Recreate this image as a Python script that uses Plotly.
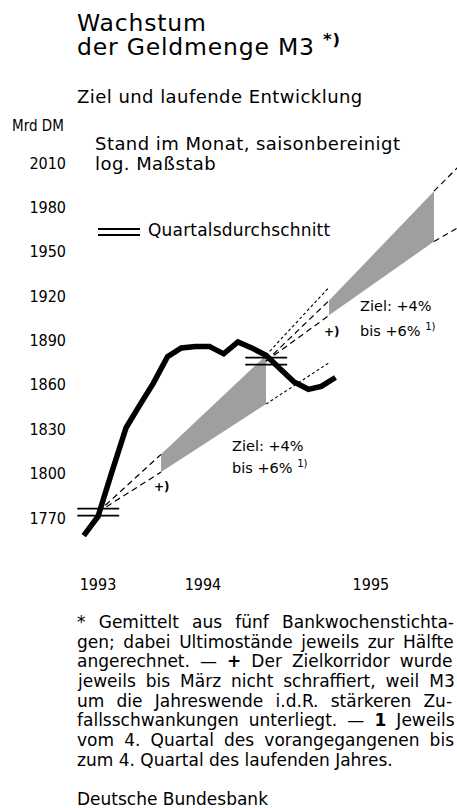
import re
import plotly.graph_objects as go

# ---------------- data ----------------
months = ['1993-10-15', '1993-11-15', '1993-12-15', '1994-01-15', '1994-02-15',
          '1994-03-15', '1994-04-15', '1994-05-15', '1994-06-15', '1994-07-15',
          '1994-08-15', '1994-09-15', '1994-10-15', '1994-11-15', '1994-12-15',
          '1995-01-15', '1995-02-15', '1995-03-15', '1995-04-15']
m3 = [1758, 1771, 1801, 1831, 1847, 1861, 1879, 1885, 1886, 1886,
      1881, 1889, 1885, 1880, 1871, 1862, 1857, 1859, 1865]

q_start = ['1993-10-01', '1994-10-01']
q_end = ['1993-12-31', '1994-12-31']
q_avg = [1774, 1876]

c94_dates = ['1993-11-15', '1994-04-01', '1994-11-15', '1995-04-01']
c94_upper = [1774, 1813, 1880, 1926]
c94_lower = [1774, 1801, 1847, 1875]

c95_dates = ['1994-11-15', '1995-04-01', '1995-11-15', '1996-01-15']
c95_upper = [1876, 1917, 1991, 2010]
c95_lower = [1876, 1907, 1957, 1968]

y_ticks = [1770, 1800, 1830, 1860, 1890, 1920, 1950, 1980, 2010]
x_tickvals = ['1993-11-15', '1994-07-01', '1995-07-01']
x_ticktext = ['1993', '1994', '1995']

footnote_lines = [
    "* Gemittelt aus fünf Bankwochenstichta-",
    "gen; dabei Ultimostände jeweils zur Hälfte",
    "angerechnet. — <b>+</b> Der Zielkorridor wurde",
    "jeweils bis März nicht schraffiert, weil M3",
    "um die Jahreswende i.d.R. stärkeren Zu-",
    "fallsschwankungen unterliegt. — <b>1</b> Jeweils",
    "vom 4. Quartal des vorangegangenen bis",
    "zum 4. Quartal des laufenden Jahres.",
]
footnote_justified = [True, True, True, True, True, True, True, False]

# ---------------- layout helpers ----------------
W, H = 457, 808
PL, PR, PT, PB = 75, 457, 140, 570
MAIN = "DejaVu Sans, Open Sans, sans-serif"
COND = "Liberation Sans Narrow, DejaVu Sans Condensed, Arial Narrow, sans-serif"

# DejaVu Sans advance widths (units per em = 2048), used to justify footnote lines
DV = {' ': 651, '*': 1024, '-': 739, '.': 651, ',': 651, ';': 690, ':': 690,
      '—': 2048, '+': 1716, 'A': 1401, 'B': 1405, 'D': 1577, 'G': 1587, 'H': 1540,
      'J': 604, 'K': 1343, 'M': 1767, 'Q': 1612, 'R': 1423, 'S': 1300, 'U': 1499,
      'Z': 1405, 'a': 1255, 'b': 1300, 'c': 1126, 'd': 1300, 'e': 1260, 'f': 721,
      'g': 1300, 'h': 1298, 'i': 569, 'j': 569, 'k': 1186, 'l': 569, 'm': 1995,
      'n': 1298, 'o': 1253, 'p': 1300, 'r': 842, 's': 1067, 't': 803, 'u': 1298,
      'v': 1212, 'w': 1675, 'z': 1075, 'ä': 1255, 'ü': 1298, 'ö': 1253}
for dgt in '0123456789':
    DV[dgt] = 1303


def text_w(s, size):
    plain = re.sub(r'<[^>]+>', '', s)
    return sum(DV.get(ch, 1250) for ch in plain) / 2048 * size


def fx(p):
    return p / W


def fy(p):
    return 1 - p / H


fig = go.Figure()

SHADE = dict(shape='.', fgcolor='#404040', bgcolor='#bababa', size=2, solidity=0.5)
LONG = '6px,4px'
SHORT = '3px,2.5px'

for dates, up, lo in [(c94_dates, c94_upper, c94_lower), (c95_dates, c95_upper, c95_lower)]:
    fig.add_trace(go.Scatter(
        x=[dates[1], dates[2], dates[2], dates[1], dates[1]],
        y=[up[1], up[2], lo[2], lo[1], up[1]],
        mode='lines', fill='toself', line=dict(width=0),
        fillcolor='#a8a8a8', fillpattern=SHADE,
        hoverinfo='skip', showlegend=False))
    for arr in (up, lo):
        fig.add_trace(go.Scatter(x=dates[0:2], y=arr[0:2], mode='lines',
                                 line=dict(color='black', width=1.2, dash=LONG),
                                 hoverinfo='skip', showlegend=False))

for arr in (c94_upper, c94_lower):
    fig.add_trace(go.Scatter(x=c94_dates[2:4], y=arr[2:4], mode='lines',
                             line=dict(color='black', width=1.1, dash=SHORT),
                             hoverinfo='skip', showlegend=False))
for arr in (c95_upper, c95_lower):
    fig.add_trace(go.Scatter(x=c95_dates[2:4], y=arr[2:4], mode='lines',
                             line=dict(color='black', width=1.2, dash=LONG),
                             hoverinfo='skip', showlegend=False))

fig.add_trace(go.Scatter(x=months, y=m3, mode='lines',
                         line=dict(color='black', width=5.5),
                         hoverinfo='skip', showlegend=False))

shapes = []
for s, e, v in zip(q_start, q_end, q_avg):
    for off in (-3.5, 3.5):
        shapes.append(dict(type='line', xref='x', yref='y', x0=s, x1=e,
                           ysizemode='pixel', yanchor=v, y0=off, y1=off,
                           line=dict(color='black', width=1.8)))
for yy in (229, 235):
    shapes.append(dict(type='line', xref='paper', yref='paper',
                       x0=fx(98), x1=fx(140), y0=fy(yy), y1=fy(yy),
                       line=dict(color='black', width=1.8)))

annotations = []


def ann(text, x, y, size, family=MAIN, xanchor='left', ls=0.0, ws=0.0):
    style = []
    if ls:
        style.append(f'letter-spacing:{ls:.2f}px')
    if ws:
        style.append(f'word-spacing:{ws:.2f}px')
    if style:
        text = f'<span style="{";".join(style)}">{text}</span>'
    annotations.append(dict(text=text, x=fx(x), y=fy(y), xref='paper', yref='paper',
                            xanchor=xanchor, yanchor='middle', showarrow=False,
                            font=dict(family=family, size=size, color='black')))


ann("Wachstum", 75, 23, 23.5, ls=0.8)
ann("der Geldmenge M3 <sup><b>*)</b></sup>", 75, 45, 23.5, ls=0.8)
ann("Ziel und laufende Entwicklung", 75, 96, 18, ls=0.45)
ann("Mrd DM", 10, 126, 15, COND)
ann("Stand im Monat, saisonbereinigt", 93, 144, 18, ls=0.45)
ann("log. Maßstab", 93, 163, 18, ls=0.45)
ann("Quartalsdurchschnitt", 146, 230, 17, ls=0.2)
ann("Ziel: +4%", 230, 446, 14.5)
ann("bis +6% <sup>1)</sup>", 230, 467, 14.5)
ann("Ziel: +4%", 358, 306, 14.5)
ann("bis +6% <sup>1)</sup>", 358, 330, 14.5)
ann("<b>+)</b>", 152, 487, 12)
ann("<b>+)</b>", 322, 332, 12)

FN_SIZE = 17
FN_WIDTH = 377
fn_y = [622, 641.5, 661, 681, 700.5, 720, 740, 759.5]
for line, yy, just in zip(footnote_lines, fn_y, footnote_justified):
    ws = 0.0
    if just:
        n_sp = re.sub(r'<[^>]+>', '', line).count(' ')
        ws = max(0.0, (FN_WIDTH - text_w(line, FN_SIZE)) / n_sp)
    ann(line, 75, yy, FN_SIZE, ws=ws)
ann("Deutsche Bundesbank", 75, 799, FN_SIZE)

fig.update_layout(
    width=W, height=H,
    margin=dict(l=0, r=0, t=0, b=0),
    paper_bgcolor='white', plot_bgcolor='white',
    showlegend=False,
    shapes=shapes, annotations=annotations,
    xaxis=dict(domain=[fx(PL), fx(PR)], type='date',
               range=['1993-09-26', '1996-01-04'],
               tickvals=x_tickvals, ticktext=x_ticktext,
               showgrid=False, zeroline=False, showline=False, ticks='',
               ticklabelstandoff=3,
               tickfont=dict(family=COND, size=16, color='black'),
               automargin=False, fixedrange=True),
    yaxis=dict(domain=[fy(PB), fy(PT)], type='linear',
               range=[1734.8, 2025.6],
               tickvals=y_ticks, ticktext=[str(v) for v in y_ticks],
               showgrid=False, zeroline=False, showline=False, ticks='',
               ticklabelstandoff=8,
               tickfont=dict(family=COND, size=16, color='black'),
               automargin=False, fixedrange=True),
)

fig.write_html("out.html", config={'displayModeBar': False},
               post_script="document.body.style.margin='0px';")
